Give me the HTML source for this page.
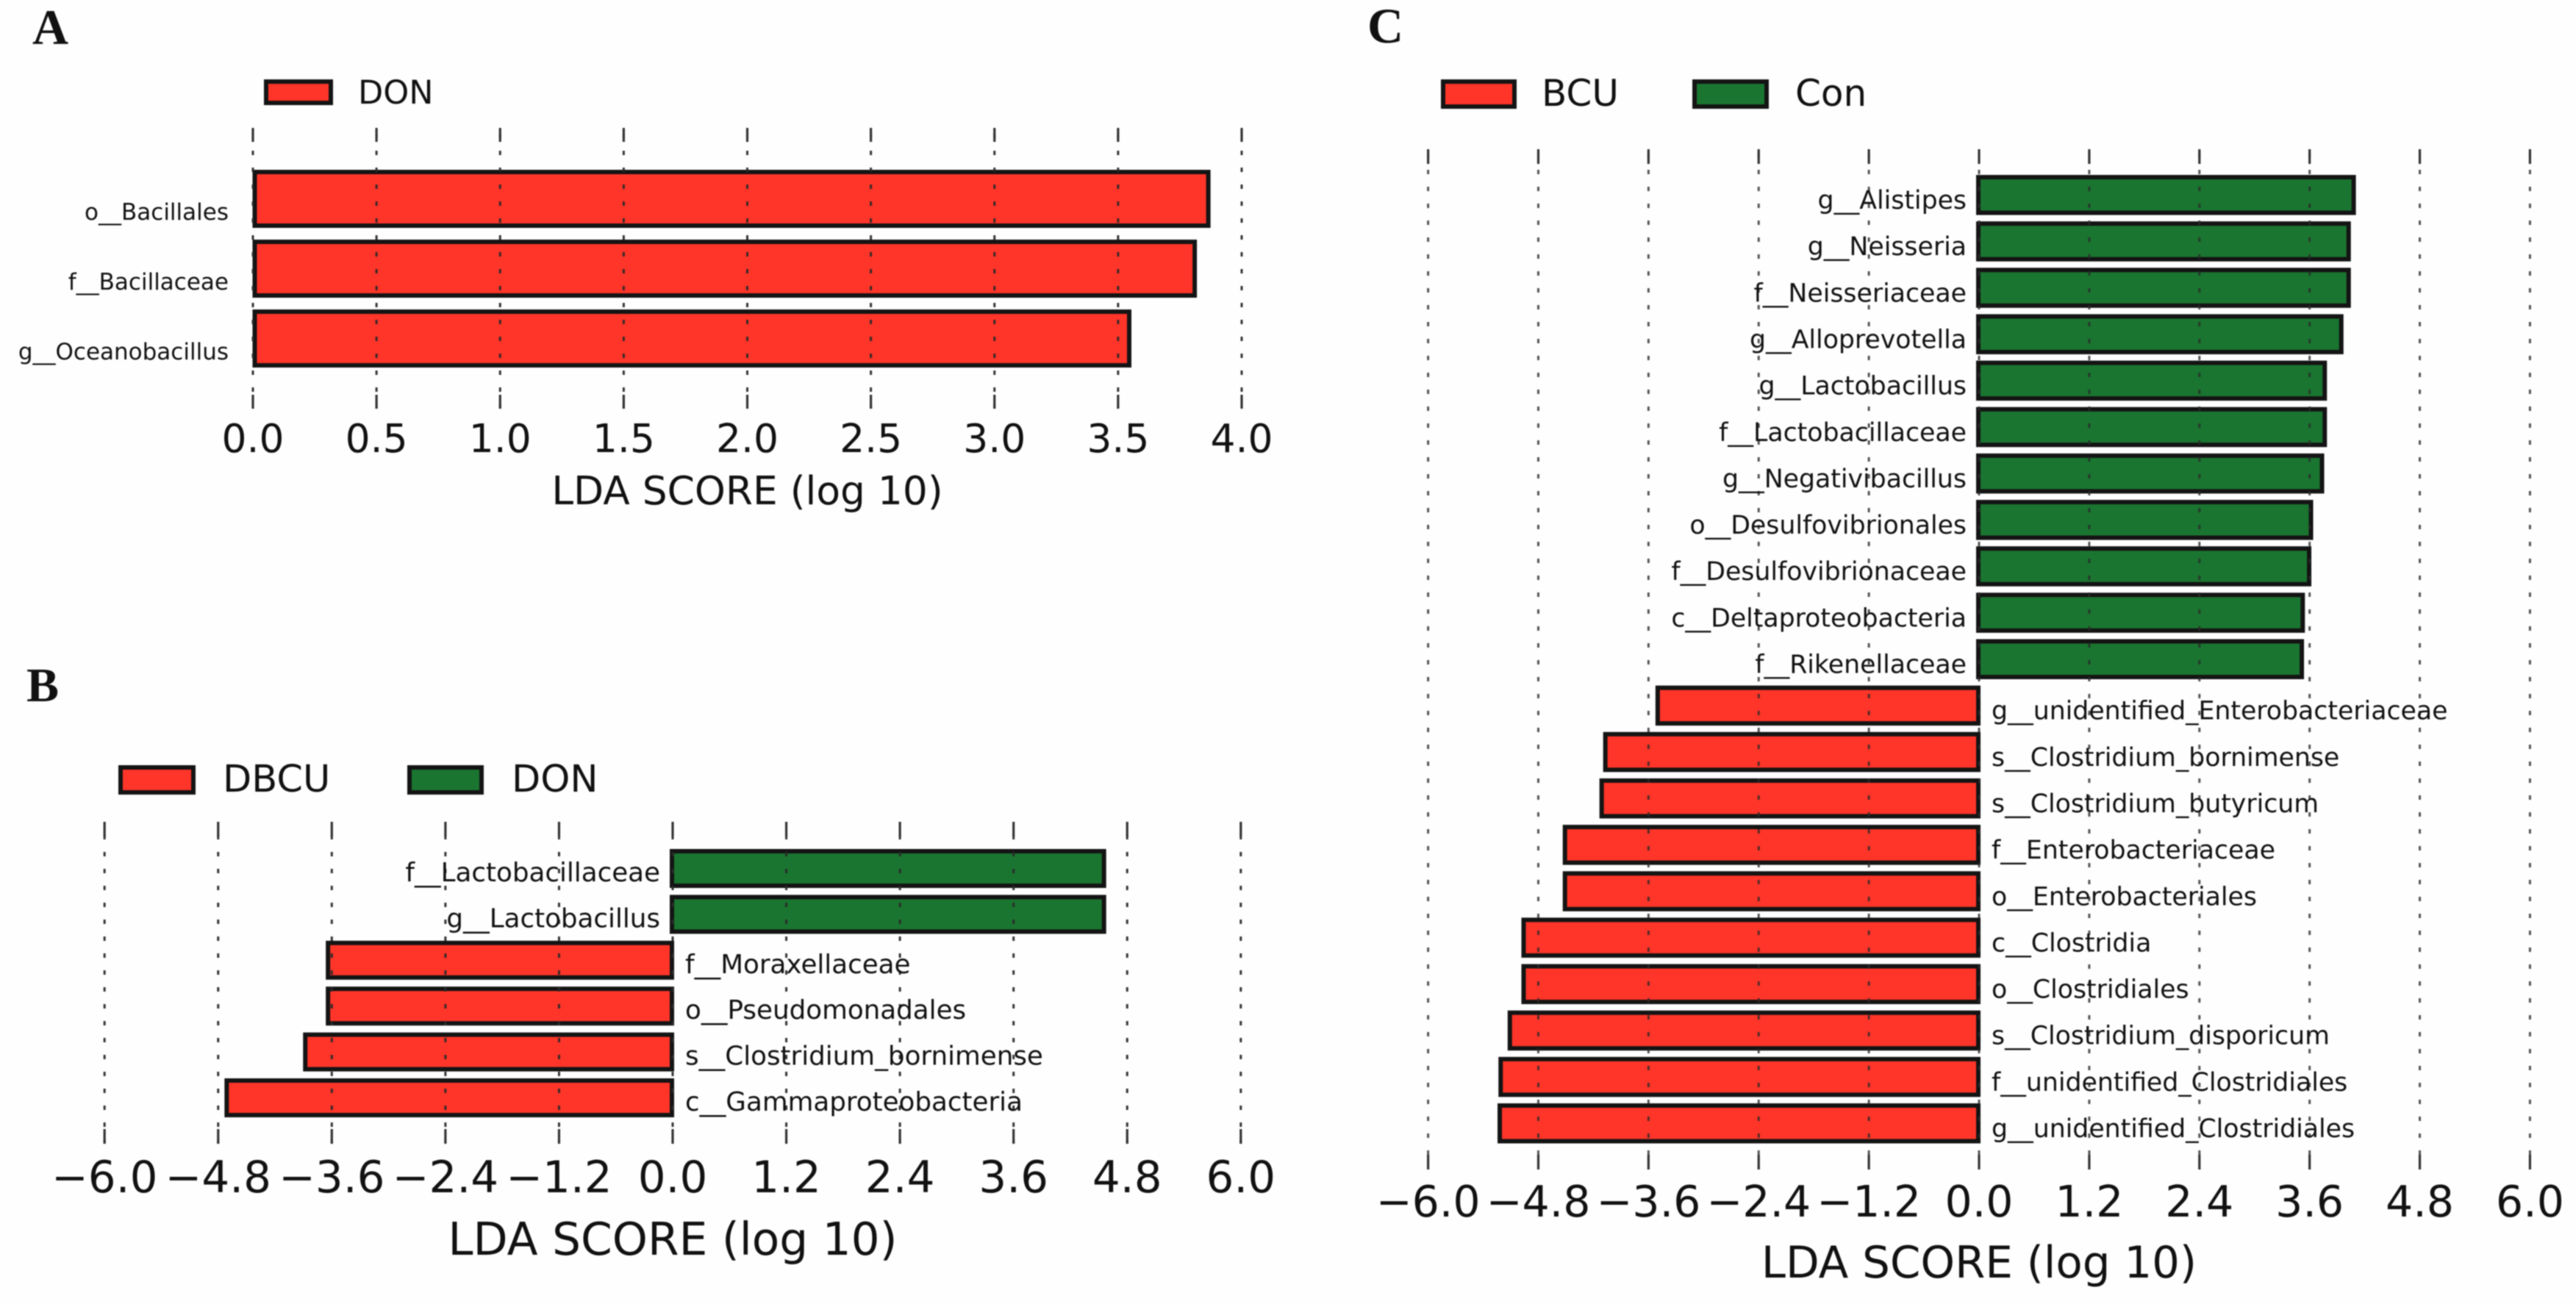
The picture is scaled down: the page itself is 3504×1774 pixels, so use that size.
<!DOCTYPE html>
<html lang="en">
<head>
<meta charset="utf-8">
<title>LDA score charts</title>
<style>
html,body{margin:0;padding:0;background:#fefefe;}
#figure{display:block;width:3504px;height:1774px;filter:blur(0.9px);}
text{font-family:"DejaVu Sans","Liberation Sans",sans-serif;fill:#111;}
.letter{font-family:"Liberation Serif",serif;font-weight:bold;}
</style>
</head>
<body>
<svg id="figure" xmlns="http://www.w3.org/2000/svg" width="3504" height="1774" viewBox="0 0 3504 1774">
  <rect x="0" y="0" width="3504" height="1774" fill="#fefefe"/>
  <text class="letter" x="44" y="60" font-size="68">A</text>
  <text class="letter" x="36" y="954" font-size="66">B</text>
  <text class="letter" x="1860" y="58" font-size="68">C</text>
</svg>
<script>
const RED = '#ff3529';
const GREEN = '#1a7530';

const panelACategories = ['o__Bacillales', 'f__Bacillaceae', 'g__Oceanobacillus'];
const panelAValues = [3.865, 3.81, 3.545];
const panelATicks = [0, 0.5, 1, 1.5, 2, 2.5, 3, 3.5, 4];
const panelATickLabels = ['0.0', '0.5', '1.0', '1.5', '2.0', '2.5', '3.0', '3.5', '4.0'];

const panelBCategories = ['f__Lactobacillaceae', 'g__Lactobacillus', 'f__Moraxellaceae', 'o__Pseudomonadales', 's__Clostridium_bornimense', 'c__Gammaproteobacteria'];
const panelBValues = [4.555, 4.555, -3.64, -3.64, -3.88, -4.71];
const panelBTicks = [-6, -4.8, -3.6, -2.4, -1.2, 0, 1.2, 2.4, 3.6, 4.8, 6];
const panelBTickLabels = ['\u22126.0', '\u22124.8', '\u22123.6', '\u22122.4', '\u22121.2', '0.0', '1.2', '2.4', '3.6', '4.8', '6.0'];

const panelCCategories = ['g__Alistipes', 'g__Neisseria', 'f__Neisseriaceae', 'g__Alloprevotella', 'g__Lactobacillus', 'f__Lactobacillaceae', 'g__Negativibacillus', 'o__Desulfovibrionales', 'f__Desulfovibrionaceae', 'c__Deltaproteobacteria', 'f__Rikenellaceae', 'g__unidentified_Enterobacteriaceae', 's__Clostridium_bornimense', 's__Clostridium_butyricum', 'f__Enterobacteriaceae', 'o__Enterobacteriales', 'c__Clostridia', 'o__Clostridiales', 's__Clostridium_disporicum', 'f__unidentified_Clostridiales', 'g__unidentified_Clostridiales'];
const panelCValues = [4.08, 4.025, 4.025, 3.945, 3.765, 3.765, 3.735, 3.615, 3.595, 3.525, 3.515, -3.5, -4.07, -4.11, -4.51, -4.51, -4.96, -4.96, -5.11, -5.21, -5.22];
const panelCTicks = [-6, -4.8, -3.6, -2.4, -1.2, 0, 1.2, 2.4, 3.6, 4.8, 6];
const panelCTickLabels = ['\u22126.0', '\u22124.8', '\u22123.6', '\u22122.4', '\u22121.2', '0.0', '1.2', '2.4', '3.6', '4.8', '6.0'];

const svg = document.getElementById('figure');
const NS = 'http://www.w3.org/2000/svg';

function make(tag, attrs, parent) {
  const el = document.createElementNS(NS, tag);
  for (const key in attrs) el.setAttribute(key, attrs[key]);
  parent.appendChild(el);
  return el;
}

function drawPanel(p) {
  const group = make('g', {}, svg);
  
  

  const xAxis = v => p.zeroX + v * p.unit;
  const yAxis = i => p.barTop + i * p.pitch;
  const baseX = xAxis(0) + p.baseShift;

  // Bars
  p.values.forEach((v, i) => {
    const isGreen = p.twoSided && v > 0;
    const bar = make('rect', {
      x: Math.min(baseX, xAxis(v)),
      y: yAxis(i) + 3,
      width: Math.abs(xAxis(v) - baseX),
      height: p.barHeight - 6,
      fill: isGreen ? GREEN : RED,
      stroke: '#141414',
      'stroke-width': 6
    }, group);
    
    
  });

  // Grid lines and ticks
  p.ticks.forEach((t, i) => {
    const x = xAxis(t);
    const grid = make('line', {
      x1: x, x2: x, y1: p.gridStart, y2: p.tickBottom,
      stroke: '#2a2a2a', 'stroke-width': 3, 'stroke-dasharray': '6 17',
      opacity: p.gridOpacity
    }, group);
    
    

    const tickTop = make('line', {
      x1: x, x2: x, y1: p.tickTop, y2: p.tickTop + p.tickLen,
      stroke: '#333', 'stroke-width': 3.2
    }, group);
    
    

    const tickBottom = make('line', {
      x1: x, x2: x, y1: p.tickBottom - p.tickLen, y2: p.tickBottom,
      stroke: '#333', 'stroke-width': 3.2
    }, group);
    
    

    const label = make('text', {
      x: x, y: p.tickLabelY, 'font-size': p.tickFont, 'text-anchor': 'middle'
    }, group);
    label.textContent = p.tickLabels[i];
    
    
  });

  // Category labels
  p.categories.forEach((c, i) => {
    const isLeft = !p.twoSided || p.values[i] > 0;
    const label = make('text', {
      x: xAxis(0) + (isLeft ? -p.labelGapLeft : p.labelGapRight),
      y: yAxis(i) + p.barHeight - p.labelLift,
      'font-size': p.labelFont,
      'text-anchor': isLeft ? 'end' : 'start'
    }, group);
    label.textContent = c;
    
    
  });

  // Axis title
  const title = make('text', {
    x: xAxis(p.titleAt), y: p.titleY, 'font-size': p.titleFont, 'text-anchor': 'middle'
  }, group);
  title.textContent = 'LDA SCORE (log 10)';
  
  

  // Legend
  p.legend.forEach(entry => {
    const swatch = make('rect', {
      x: entry.boxX + 3, y: p.legendTop + 3,
      width: entry.boxW - 6, height: p.legendH - 6,
      fill: entry.color, stroke: '#141414', 'stroke-width': 6
    }, group);
    
    

    const legendLabel = make('text', {
      x: entry.textX, y: p.legendBase, 'font-size': p.legendFont
    }, group);
    legendLabel.textContent = entry.text;
    
    
  });
}

drawPanel({
  id: 'panel-a', twoSided: false, baseShift: 2.5, gridOpacity: 0.95,
  categories: panelACategories, values: panelAValues, ticks: panelATicks, tickLabels: panelATickLabels,
  zeroX: 344, unit: 336.25, barTop: 231, pitch: 95, barHeight: 79,
  gridStart: 182, tickTop: 174, tickBottom: 556, tickLen: 19,
  tickLabelY: 615, tickFont: 53.5, titleAt: 2, titleY: 686, titleFont: 53.4,
  labelFont: 31, labelGapLeft: 33, labelGapRight: 0, labelLift: 11,
  legendTop: 108, legendH: 35, legendBase: 141, legendFont: 44.5,
  legend: [{ boxX: 359, boxW: 94, color: RED, text: 'DON', textX: 487 }]
});

drawPanel({
  id: 'panel-b', twoSided: true, baseShift: -1, gridOpacity: 0.95,
  categories: panelBCategories, values: panelBValues, ticks: panelBTicks, tickLabels: panelBTickLabels,
  zeroX: 915, unit: 128.8, barTop: 1155, pitch: 62.4, barHeight: 53,
  gridStart: 1136, tickTop: 1118, tickBottom: 1556, tickLen: 20,
  tickLabelY: 1622, tickFont: 59.5, titleAt: 0, titleY: 1707, titleFont: 61.3,
  labelFont: 35.7, labelGapLeft: 17, labelGapRight: 17, labelLift: 9,
  legendTop: 1041, legendH: 40, legendBase: 1077, legendFont: 51,
  legend: [
    { boxX: 161, boxW: 105, color: RED, text: 'DBCU', textX: 303 },
    { boxX: 554, boxW: 104, color: GREEN, text: 'DON', textX: 696 }
  ]
});

drawPanel({
  id: 'panel-c', twoSided: true, baseShift: -1, gridOpacity: 0.8,
  categories: panelCCategories, values: panelCValues, ticks: panelCTicks, tickLabels: panelCTickLabels,
  zeroX: 2692, unit: 124.9, barTop: 238, pitch: 63.15, barHeight: 54.5,
  gridStart: 208, tickTop: 203, tickBottom: 1591, tickLen: 20,
  tickLabelY: 1655, tickFont: 58.5, titleAt: 0, titleY: 1738, titleFont: 59.4,
  labelFont: 34.7, labelGapLeft: 17, labelGapRight: 17, labelLift: 8.5,
  legendTop: 108, legendH: 40, legendBase: 144, legendFont: 50,
  legend: [
    { boxX: 1960, boxW: 103, color: RED, text: 'BCU', textX: 2097 },
    { boxX: 2302, boxW: 104, color: GREEN, text: 'Con', textX: 2442 }
  ]
});
</script>
</body>
</html>
